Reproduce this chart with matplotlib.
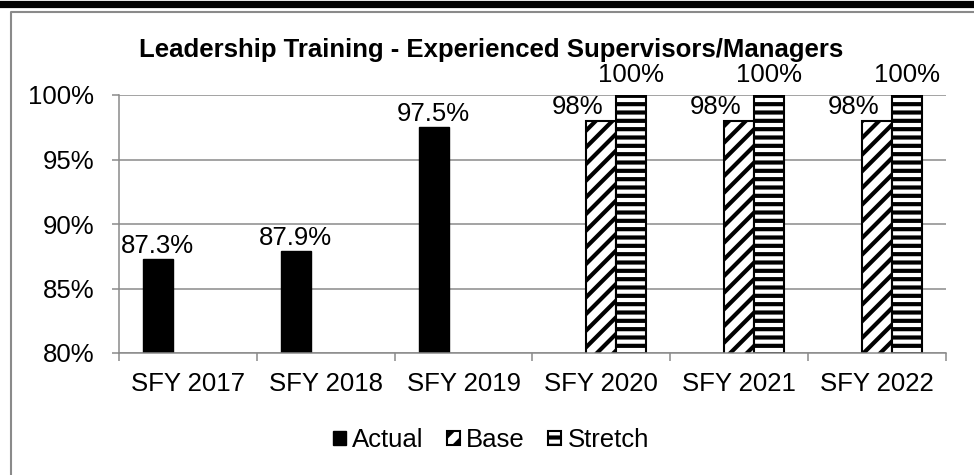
import numpy as np
import matplotlib
matplotlib.use("Agg")
from matplotlib import pyplot as plt
from matplotlib.lines import Line2D

plt.rcParams['font.family'] = ['Liberation Sans', 'DejaVu Sans']
plt.rcParams['hatch.linewidth'] = 3.0

years = ['SFY 2017', 'SFY 2018', 'SFY 2019', 'SFY 2020', 'SFY 2021', 'SFY 2022']

actual_idx = [0, 1, 2]
actual = [87.3, 87.9, 97.5]
actual_labels = ['87.3%', '87.9%', '97.5%']

base_idx = [3, 4, 5]
base = [98, 98, 98]
base_labels = ['98%', '98%', '98%']

stretch_idx = [3, 4, 5]
stretch = [100, 100, 100]
stretch_labels = ['100%', '100%', '100%']

W, H = 974, 475
fig = plt.figure(figsize=(W / 100, H / 100), dpi=100)
ax = fig.add_axes([119 / W, 1 - 353 / H, (946 - 119) / W, (353 - 95) / H])

grey = '#8a8a8a'
bw = 0.218
fs = 18.5

b1 = ax.bar(np.array(actual_idx) - bw, actual, bw, color='black', edgecolor='black', linewidth=1, label='Actual')
b2 = ax.bar(np.array(base_idx), base, bw, color='white', edgecolor='black', linewidth=1.5, hatch='//', label='Base')
b3 = ax.bar(np.array(stretch_idx) + bw, stretch, bw, color='white', edgecolor='black', linewidth=1.5, hatch='--', label='Stretch')

def label_bars(bars, labels, dx, dy):
    for rect, lab in zip(bars, labels):
        ax.annotate(lab, (rect.get_x() + rect.get_width() / 2, rect.get_height()),
                    xytext=(dx, dy), textcoords='offset points', ha='center', va='baseline',
                    fontsize=fs, annotation_clip=False)

label_bars(b1, actual_labels, 0, 4.5)
label_bars(b2, base_labels, -17, 5)
label_bars(b3, stretch_labels, 0, 9.5)

ax.set_ylim(80, 100)
ax.set_xlim(-0.5, 5.5)
ax.set_yticks([80, 85, 90, 95, 100])
ax.set_yticklabels(['80%', '85%', '90%', '95%', '100%'])
ax.set_xticks(range(6))
ax.set_xticklabels(years)
ax.set_xticks(np.arange(7) - 0.5, minor=True)
ax.tick_params(axis='x', which='major', length=0, pad=14, labelsize=fs)
ax.tick_params(axis='x', which='minor', length=5.8, width=1.1, color=grey)
ax.tick_params(axis='y', length=5, width=1.1, color=grey, pad=13, labelsize=fs)
ax.yaxis.grid(True, color=grey, linewidth=1.1)
ax.set_axisbelow(True)
for s in ['top', 'right']:
    ax.spines[s].set_visible(False)
for s in ['left', 'bottom']:
    ax.spines[s].set_color(grey)
    ax.spines[s].set_linewidth(1.1)

fig.text(491 / W, 1 - 57 / H, 'Leadership Training - Experienced Supervisors/Managers',
         ha='center', va='baseline', fontsize=fs, fontweight='bold')

fig.legend(loc='center', bbox_to_anchor=(491 / W, 1 - 440 / H), ncol=3, frameon=False,
           fontsize=fs, handlelength=0.5, handleheight=0.5, handletextpad=0.25,
           columnspacing=0.9)

# outer chart frame and dark band on top
fig.add_artist(Line2D([0, 1], [1 - 3.5 / H, 1 - 3.5 / H], color='black', linewidth=5.2, transform=fig.transFigure))
fig.add_artist(Line2D([11 / W, 11 / W, 1], [0, 1 - 12 / H, 1 - 12 / H], color=grey, linewidth=1.5, transform=fig.transFigure))

fig.savefig('out.png', dpi=100)
